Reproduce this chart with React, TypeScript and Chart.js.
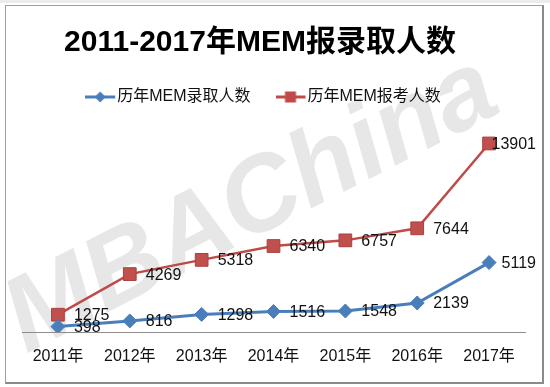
import React, { useEffect, useRef } from 'react';
import { Chart, registerables } from 'chart.js';

Chart.register(...registerables);

const categories = ['2011年', '2012年', '2013年', '2014年', '2015年', '2016年', '2017年'];
const admitted = [398, 816, 1298, 1516, 1548, 2139, 5119];
const applicants = [1275, 4269, 5318, 6340, 6757, 7644, 13901];
const seriesNames = ['历年MEM录取人数', '历年MEM报考人数'];
const titleText = '2011-2017年MEM报录取人数';
const watermarkText = 'MBAChina';

const BLUE = '#4a7ebb';
const RED = '#be4b48';
const FONT = "'Liberation Sans', 'Noto Sans CJK SC', sans-serif";

function makeLegendImage(color: string, shape: 'diamond' | 'square') {
  const c = document.createElement('canvas');
  c.width = 45;
  c.height = 14;
  const g = c.getContext('2d')!;
  g.strokeStyle = color;
  g.lineWidth = 3;
  g.beginPath();
  g.moveTo(0, 7);
  g.lineTo(30, 7);
  g.stroke();
  g.fillStyle = color;
  if (shape === 'diamond') {
    g.beginPath();
    g.moveTo(15, 1.5);
    g.lineTo(20.5, 7);
    g.lineTo(15, 12.5);
    g.lineTo(9.5, 7);
    g.closePath();
    g.fill();
  } else {
    g.fillRect(9.5, 1.5, 11, 11);
  }
  return c;
}

const watermark = {
  id: 'watermark',
  beforeDraw(chart: any) {
    const ctx = chart.ctx;
    ctx.save();
    ctx.translate(265, 232);
    ctx.rotate((-27 * Math.PI) / 180);
    ctx.font = `italic bold 106px ${FONT}`;
    ctx.fillStyle = '#e7e7e7';
    ctx.textAlign = 'center';
    ctx.textBaseline = 'alphabetic';
    ctx.fillText(watermarkText, 0, 0);
    ctx.restore();
  },
};

const titleShift = {
  id: 'titleShift',
  afterLayout(chart: any) {
    const t = chart.titleBlock;
    if (t) t.right -= 27;
  },
};

const valueLabels = {
  id: 'valueLabels',
  afterDatasetsDraw(chart: any) {
    const ctx = chart.ctx;
    ctx.save();
    ctx.font = `16px ${FONT}`;
    ctx.fillStyle = '#111';
    ctx.textBaseline = 'middle';
    ctx.textAlign = 'left';
    chart.data.datasets.forEach((ds: any, di: number) => {
      const meta = chart.getDatasetMeta(di);
      meta.data.forEach((pt: any, i: number) => {
        const txt = String(ds.data[i]);
        const w = ctx.measureText(txt).width;
        let x = pt.x + 16;
        const maxRight = chart.width - 14;
        if (x + w > maxRight) x = maxRight - w;
        ctx.fillText(txt, x, pt.y + 1);
      });
    });
    ctx.restore();
  },
};

export default function App() {
  const ref = useRef<HTMLCanvasElement>(null);
  useEffect(() => {
    if (!ref.current) return;
    const legendImgs = [makeLegendImage(BLUE, 'diamond'), makeLegendImage(RED, 'square')];
    const chart = new Chart(ref.current, {
      type: 'line',
      data: {
        labels: categories,
        datasets: [
          {
            label: seriesNames[0],
            data: admitted,
            borderColor: BLUE,
            backgroundColor: BLUE,
            borderWidth: 3,
            tension: 0,
            pointStyle: 'rectRot',
            pointRadius: 7,
            pointBorderWidth: 1,
            pointBorderColor: BLUE,
            pointBackgroundColor: BLUE,
          },
          {
            label: seriesNames[1],
            data: applicants,
            borderColor: RED,
            backgroundColor: RED,
            borderWidth: 2.5,
            tension: 0,
            pointStyle: 'rect',
            pointRadius: 9,
            pointBorderWidth: 1,
            pointBorderColor: '#a8403d',
            pointBackgroundColor: '#c0504d',
          },
        ],
      },
      options: {
        responsive: false,
        animation: false,
        devicePixelRatio: 1,
        layout: { padding: { left: 22, right: 25, top: 0, bottom: 5 } },
        plugins: {
          title: {
            display: true,
            text: titleText,
            color: '#000',
            font: { family: FONT, size: 30, weight: 'bold', lineHeight: 1.2 },
            padding: { top: 25, bottom: -18 },
          },
          legend: {
            display: true,
            position: 'top',
            maxHeight: 73,
            labels: {
              usePointStyle: true,
              pointStyleWidth: 3,
              padding: 46,
              color: '#111',
              font: { family: FONT, size: 16 },
              generateLabels: (ch: any) =>
                ch.data.datasets.map((ds: any, i: number) => ({
                  text: ds.label,
                  pointStyle: legendImgs[i],
                  datasetIndex: i,
                  hidden: false,
                  lineWidth: 0,
                  fontColor: '#111',
                })),
            },
          },
          tooltip: { enabled: false },
        },
        scales: {
          x: {
            offset: true,
            grid: { display: false, drawTicks: false },
            border: { display: true, color: '#8c8c8c', width: 1 },
            ticks: { color: '#111', font: { family: FONT, size: 16, lineHeight: 1.2 }, padding: 15.4, maxRotation: 0 },
          },
          y: {
            display: false,
            min: 0,
            max: 16000,
          },
        },
      },
      plugins: [watermark, titleShift, valueLabels],
    });
    return () => chart.destroy();
  }, []);

  return (
    <div style={{ position: 'absolute', left: 0, top: 0, width: 550, height: 387, background: '#fff' }}>
      <div style={{ position: 'absolute', left: 0, top: 0, width: 550, height: 3, background: '#ececec' }} />
      <div
        style={{
          position: 'absolute',
          left: 5,
          top: 5,
          width: 536,
          height: 376,
          borderLeft: '1px solid #a0a0a0',
          borderTop: '1px solid #a0a0a0',
          borderRight: '2px solid #8a8a8a',
          borderBottom: '2px solid #8a8a8a',
          background: '#fff',
        }}
      />
      <canvas ref={ref} width={550} height={387} style={{ position: 'absolute', left: 0, top: 0, width: 550, height: 387 }} />
    </div>
  );
}
